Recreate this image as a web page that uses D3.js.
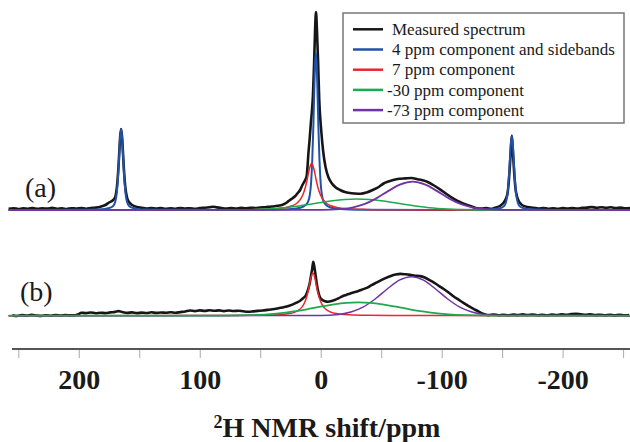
<!DOCTYPE html>
<html>
<head>
<meta charset="utf-8">
<script src="https://cdn.jsdelivr.net/npm/d3@7"></script>
<style>
    body { margin: 0; background: #fff; }
    text { font-family: "Liberation Serif", "Times New Roman", serif; fill: #1a1a1a; }
</style>
</head>
<body>
<div id="chart"></div>
<script>
const [svgW, svgH] = [630, 442];

// [ppm, intensity (a.u.)]
const measuredA = [[258,1.2],[254,1.8],[250,1.0],[246,1.6],[242,1.3],[238,2.0],[234,1.1],[230,1.7],[226,1.4],[222,2.1],[218,1.2],[214,1.6],[210,1.0],[206,1.8],[202,1.4],[198,2.0],[194,1.3],[190,1.9],[186,2.4],[182,3.3],[178,5],[175,7.5],[172,9.5],[170,12.5],[169,18],[168,29],[167.2,43],[166.6,56],[165.8,73],[165,81],[164.2,73],[163.4,56],[162.8,43],[162,29],[161,18],[160,12],[158.5,8],[156,5],[152,3],[148,2.2],[144,1.5],[140,2.0],[136,1.4],[132,1.9],[128,1.2],[124,1.7],[120,1.3],[116,2.0],[112,1.5],[108,1.8],[104,1.2],[100,1.9],[96,2.3],[92,2.8],[89,3.3],[86,2.6],[82,1.9],[78,1.4],[74,2.0],[70,1.5],[66,2.1],[62,1.7],[58,2.2],[54,2.0],[50,2.5],[46,2.8],[42,3.3],[38,3.8],[34,4.5],[31,5.5],[28,7.5],[25.4,10],[23,12],[21,14],[19,17],[17,20],[15.5,24],[14.2,27],[12.8,30],[11.6,34],[10.8,45],[10.2,56],[9.2,70],[8.2,86],[7.2,100],[6.4,115],[5.5,145],[4.7,178],[3.9,198],[3.1,180],[2.2,150],[1.2,110],[-0.4,80],[-2.1,58],[-4,43],[-6.3,33],[-9,27],[-12,23],[-16,20],[-20,18],[-24,17],[-28,16.5],[-33,16.2],[-38,17.5],[-43,20],[-48,23],[-52,26.5],[-56,28.5],[-60,30],[-65,31.2],[-70,31.6],[-75,32],[-80,30.8],[-85,29.5],[-88,28.3],[-93,25],[-98.6,20.7],[-104,16],[-109.4,11.7],[-115,8],[-121,5],[-126,3],[-129,1.8],[-133,1.4],[-137,1.9],[-141,1.2],[-144,2.2],[-148,4],[-151,7],[-153,11],[-154.5,17],[-155.6,30],[-156.4,44],[-157.2,60],[-158,74.5],[-158.8,60],[-159.6,44],[-160.4,30],[-161.2,20],[-162.2,14],[-163.3,10],[-164.8,7],[-167,4.5],[-171,3],[-176,2.2],[-180,1.5],[-184,2.0],[-188,1.3],[-192,1.8],[-196,1.2],[-200,1.9],[-204,1.4],[-208,2.0],[-212,1.5],[-216,2.1],[-220,2.4],[-224,2.9],[-228,2.3],[-232,2.8],[-236,2.2],[-240,2.7],[-244,2.0],[-248,2.4],[-252,1.7],[-256,2.1]];

const blueA = [[258,0],[200,0.2],[185,0.5],[178,1.1],[174,2.3],[171.5,4.2],[170,7.7],[169,13.5],[168,25.4],[167.2,40.5],[166.6,54.6],[165.8,72.7],[165,81],[164.2,72.7],[163.4,54.6],[162.8,40.5],[162,25.4],[161,13.5],[160,7.7],[158.5,4.2],[156,2.3],[152,1.1],[145,0.5],[120,0.2],[60,0.1],[39,0.3],[24,0.9],[17,2.2],[13,4.4],[10.5,8.2],[9,15],[8,26.4],[7,49.5],[6.2,79],[5.6,106.5],[4.8,141.9],[4,158],[3.2,141.9],[2.4,106.5],[1.8,79],[1,49.5],[0,26.4],[-1,15],[-2.5,8.2],[-5,4.4],[-9,2.2],[-16,0.9],[-31,0.3],[-100,0.1],[-130,0.2],[-138,0.4],[-144,1.0],[-149,2.1],[-151.5,3.8],[-153,7.0],[-154,12.4],[-155,23.2],[-155.8,37],[-156.4,49.9],[-157.2,66.5],[-158,74],[-158.8,66.5],[-159.6,49.9],[-160.2,37],[-161,23.2],[-162,12.4],[-163,7.0],[-164.5,3.8],[-167,2.1],[-171,1.0],[-178,0.4],[-193,0.1],[-256,0]];

const redA = [[258,0],[117.5,0.1],[77.5,0.2],[52.5,0.6],[37.5,1.3],[29.5,2.3],[23.5,4.2],[19.5,7.0],[16.5,11.1],[14.5,15.9],[12.5,23.5],[11,31.5],[9.5,40.5],[7.5,47],[5.5,40.5],[4,31.5],[2.5,23.5],[0.5,15.9],[-1.5,11.1],[-4.5,7.0],[-8.5,4.2],[-14.5,2.3],[-22.5,1.3],[-37.5,0.6],[-62.5,0.2],[-102.5,0.1],[-256,0]];

const greenA = [[258,0],[80,0.05],[60,0.3],[45,1.0],[30,2.3],[20,3.7],[10,5.5],[0,7.5],[-10,9.3],[-20,10.5],[-30,11],[-40,10.5],[-50,9.3],[-60,7.5],[-70,5.5],[-80,3.7],[-90,2.3],[-105,1.0],[-120,0.3],[-140,0.05],[-256,0]];

const purpleA = [[258,0],[-1,0.1],[-16,0.8],[-26,2.4],[-36,5.8],[-46,11.6],[-56,19.1],[-66,25.6],[-76,28.3],[-86,25.6],[-96,19.1],[-106,11.6],[-116,5.8],[-126,2.4],[-136,0.8],[-151,0.1],[-256,0]];

const measuredB = [[255,0.3],[251,-0.3],[247,0.6],[243,0.1],[239,0.8],[235,0.2],[231,-0.2],[227,0.5],[223,0],[219,0.6],[215,0.2],[211,0.7],[207,0.3],[203,0.5],[200,1.5],[198,3],[194,2.6],[190,3.2],[186,2.5],[182,3.0],[178,2.6],[174,3.3],[170,3.8],[167,4.6],[164,3.6],[160,2.8],[156,3.3],[152,2.6],[148,3.1],[144,2.7],[140,3.4],[136,2.8],[132,3.2],[128,2.9],[124,3.5],[120,3.0],[116,3.6],[112,4.2],[108,5.2],[104,4.6],[100,5.3],[96,4.8],[92,5.4],[88,4.9],[84,5.3],[80,4.6],[76,5.2],[72,4.7],[68,5.0],[64,4.4],[60,4.0],[56,4.3],[52,4.8],[48,5.2],[44,5.8],[40,6.4],[36,7.2],[32,8.2],[28,9.2],[24,10.8],[20,13],[17,15],[14,18],[12,21],[10.5,26],[9,33],[8,40],[7,47],[6.2,54],[5.4,50],[4.4,42],[3.4,33],[2.2,25],[0.8,19],[-1,16],[-3.5,14.5],[-6,14],[-9,14.6],[-12,16],[-15,17.5],[-18,19.5],[-21,20.8],[-24,22],[-27,23.2],[-30,24.2],[-34,26],[-38,27.8],[-42,30.5],[-46,33],[-50,35.5],[-54,37.8],[-58,39.8],[-62,41.2],[-66,41.8],[-70,41.4],[-74,40.8],[-78,40],[-82,39.6],[-86,38.2],[-90,35.6],[-94,32.8],[-98,29.6],[-102,26.4],[-106,23],[-110,19.2],[-114,16],[-118,12.8],[-122,9.8],[-126,7],[-130,4.5],[-133,2.6],[-136,1.2],[-139,0.6],[-143,1.2],[-147,0.5],[-151,1.0],[-155,0.4],[-159,1.1],[-163,0.6],[-167,1.3],[-171,0.7],[-175,1.2],[-179,0.5],[-183,1.0],[-187,0.4],[-191,1.1],[-195,0.7],[-199,1.3],[-203,0.9],[-207,1.6],[-211,2.0],[-215,1.4],[-219,0.8],[-223,1.3],[-227,0.6],[-231,1.0],[-235,0.4],[-239,0.9],[-243,0.3],[-247,0.8],[-251,0.4],[-255,0.6]];

const redB = [[258,0],[106.5,0.1],[76.5,0.2],[51.5,0.4],[36.5,0.9],[28.5,1.7],[22.5,3.1],[18.5,5.3],[15.5,8.6],[13,13.9],[11,21.5],[10,26.8],[8.5,35.9],[6.5,43],[4.5,35.9],[3,26.8],[2,21.5],[0,13.9],[-2.5,8.6],[-5.5,5.3],[-9.5,3.1],[-15.5,1.7],[-23.5,0.9],[-38.5,0.4],[-63.5,0.2],[-100,0.1],[-256,0]];

const greenB = [[258,0],[79,0.1],[59,0.5],[44,1.3],[29,3.1],[19,4.8],[9,7.0],[-1,9.3],[-11,11.4],[-21,12.9],[-31,13.4],[-41,12.9],[-51,11.4],[-61,9.3],[-71,7.0],[-81,4.8],[-91,3.1],[-106,1.3],[-121,0.5],[-141,0.1],[-256,0]];

const purpleB = [[258,0],[0,0.2],[-15,1.3],[-25,3.7],[-35,8.6],[-45,16.7],[-55,26.7],[-65,35.5],[-75,39],[-85,35.5],[-95,26.7],[-105,16.7],[-115,8.6],[-125,3.7],[-135,1.3],[-150,0.2],[-256,0]];

const legendLabels = ["Measured spectrum", "4 ppm component and sidebands", "7 ppm component", "-30 ppm component", "-73 ppm component"];
const legendColors = ["#161616", "#2152a8", "#e8282c", "#1fa84c", "#7133a3"];
const majorTicks = [200, 100, 0, -100, -200];
const minorTicks = [250, 150, 50, -50, -150, -250];

const x = d3.scaleLinear().domain([250, -250]).range([18.3, 623.1]);
const yA = d3.scaleLinear().domain([0, 200]).range([210, 10]);
const yB = d3.scaleLinear().domain([0, 60]).range([315.7, 255.7]);

const svg = d3.select("#chart").append("svg").attr("width", svgW).attr("height", svgH);
svg.append("rect").attr("width", svgW).attr("height", svgH).attr("fill", "#fff");

function drawLine(data, y, color, width) {
    let line = d3.line()
        .x(function (d) { return x(d[0]); })
        .y(function (d) { return y(d[1]); })
        .curve(d3.curveMonotoneX);
    svg.append("path").datum(data)
        .attr("d", line)
        .attr("fill", "none")
        .attr("stroke", color)
        .attr("stroke-width", width)
        .attr("stroke-linejoin", "round");
}

// panel (a)
drawLine(measuredA, yA, legendColors[0], 2.6);
drawLine(blueA, yA, legendColors[1], 2);
drawLine(redA, yA, legendColors[2], 1.5);
drawLine(greenA, yA, legendColors[3], 1.5);
drawLine(purpleA, yA, legendColors[4], 1.8);

// panel (b)
drawLine(measuredB, yB, legendColors[0], 2.6);
drawLine(redB, yB, legendColors[2], 1.5);
drawLine(purpleB, yB, legendColors[4], 1.5);
drawLine(greenB, yB, legendColors[3], 1.8);

svg.append("text").attr("x", 25).attr("y", 197).attr("font-size", 28).text("(a)");
svg.append("text").attr("x", 20).attr("y", 301).attr("font-size", 28).text("(b)");

// x axis
let axisG = svg.append("g").attr("transform", "translate(0,349)");
let major = axisG.append("g").call(d3.axisBottom(x).tickValues(majorTicks).tickSize(9).tickPadding(11)
    .tickFormat(function (d) { return String(d); }));
let minor = axisG.append("g").call(d3.axisBottom(x).tickValues(minorTicks).tickSize(9).tickFormat(""));
axisG.selectAll(".domain").remove();
axisG.selectAll(".tick line").attr("stroke", "#aaa").attr("stroke-width", 1);
major.selectAll(".tick text")
    .attr("font-family", "'Liberation Serif', serif")
    .attr("font-size", 28).attr("font-weight", "bold").attr("fill", "#1a1a1a");
axisG.append("line").attr("x1", x(255.2)).attr("x2", x(-256)).attr("y1", 0).attr("y2", 0)
    .attr("stroke", "#555").attr("stroke-width", 2);

let title = svg.append("text").attr("x", 327).attr("y", 437).attr("text-anchor", "middle")
    .attr("font-size", 28).attr("font-weight", "bold");
title.append("tspan").attr("font-size", 18).attr("dy", -9).text("2");
title.append("tspan").attr("dy", 9).text("H NMR shift/ppm");

// legend
let legend = svg.append("g");
legend.append("rect").attr("x", 343).attr("y", 13).attr("width", 281).attr("height", 110)
    .attr("fill", "#fff").attr("stroke", "#777").attr("stroke-width", 1.5);
legendLabels.forEach(function (label, i) {
    let ly = 29.3 + i * 20.2;
    legend.append("line").attr("x1", 353).attr("x2", 383).attr("y1", ly).attr("y2", ly)
        .attr("stroke", legendColors[i]).attr("stroke-width", 2.5);
    legend.append("text").attr("x", label[0] === "-" ? 387 : 392).attr("y", ly + 5.7)
        .attr("font-size", 17).text(label);
});
</script>
</body>
</html>
